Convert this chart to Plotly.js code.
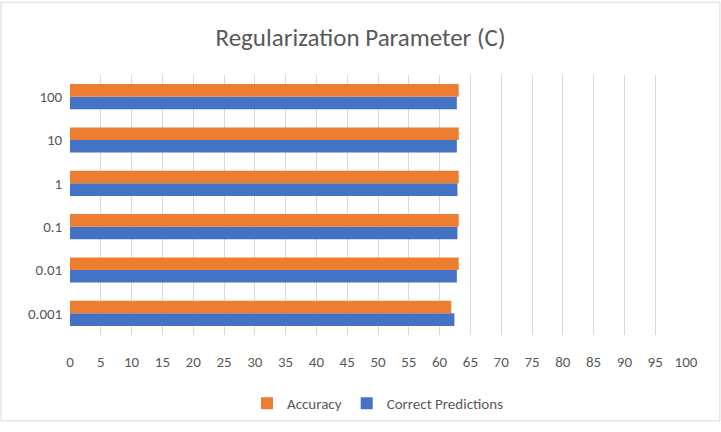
<!DOCTYPE html><html><head><script src="https://cdn.plot.ly/plotly-3.0.1.min.js"></script>
<style>body{margin:0}</style></head><body><div id="c" style="width:721px;height:432px"></div><script>
const categories=["0.001","0.01","0.1","1","10","100"];
const accuracy=[61.9,63.1,63.1,63.1,63.1,63.1];
const correct=[62.4,62.8,62.9,62.9,62.8,62.8];
const f="Calibri, Carlito, 'Open Sans', sans-serif";
Plotly.newPlot('c',[
{type:'bar',orientation:'h',name:'Correct Predictions',y:categories,x:correct,marker:{color:'#4472C4'}},
{type:'bar',orientation:'h',name:'Accuracy',y:categories,x:accuracy,marker:{color:'#ED7D31'}}
],{width:721,height:432,margin:{l:70,r:35,t:75,b:90},paper_bgcolor:'#fff',plot_bgcolor:'#fff',
title:{text:'Regularization Parameter (C)',font:{family:f,size:25,color:'#595959'},x:0.5,y:0.935},
barmode:'group',bargap:0.42,bargroupgap:0,
xaxis:{range:[0,100],dtick:5,showgrid:true,gridcolor:'#d9d9d9',zeroline:false,tickfont:{family:f,size:15,color:'#595959'},ticks:'outside',ticklen:13,tickcolor:'rgba(0,0,0,0)'},
yaxis:{type:'category',tickfont:{family:f,size:15,color:'#595959'},showgrid:false,ticks:'',ticksuffix:'  '},
legend:{orientation:'h',x:0.5,xanchor:'center',y:-0.2,traceorder:'reversed',font:{family:f,size:15,color:'#595959'}},
shapes:[{type:'rect',xref:'paper',yref:'paper',x0:-0.112,x1:1.055,y0:-0.33,y1:1.28,line:{color:'#d9d9d9',width:1}}]
},{displayModeBar:false});
</script></body></html>
